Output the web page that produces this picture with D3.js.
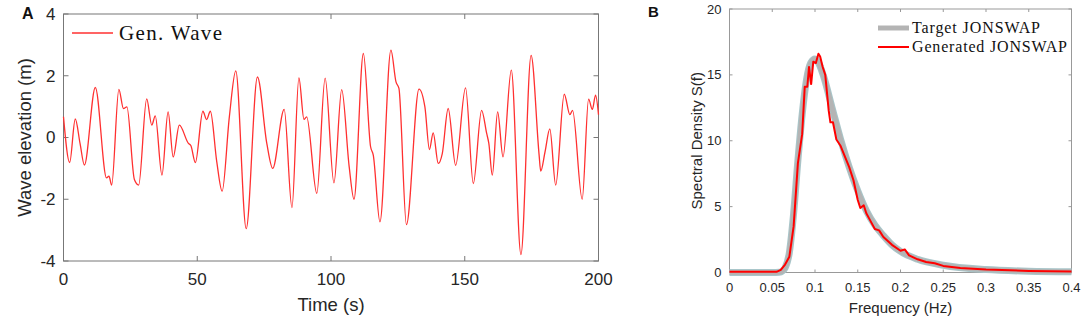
<!DOCTYPE html>
<html>
<head>
<meta charset="utf-8">
<script src="https://cdnjs.cloudflare.com/ajax/libs/d3/7.8.5/d3.min.js"></script>
<style>
  body { margin: 0; background: #fff; }
  svg { display: block; font-family: Arial, "Liberation Sans", sans-serif; }
  .lbl { fill: #262626; }
</style>
</head>
<body>
<svg id="chart" width="1084" height="319"></svg>
<script>
// Panel A: generated wave elevation, read at peaks / troughs / shoulders
var waveT = [0, 2.3, 4.4, 6.2, 7.8, 11.9, 16.1, 17.0, 18.0, 20.7, 22.4, 23.7, 26.5, 28.1,
  31.1, 33.0, 34.3, 36.8, 39.1, 41.0, 43.3, 46.7, 47.6, 49.3, 52.1, 53.5, 54.9, 57.3,
  59.3, 62.0, 64.4, 68.3, 72.5, 76.0, 78.2, 82.5, 85.4, 88.0, 89.9, 90.9, 94.7, 97.8,
  101.1, 104.0, 106.8, 108.6, 112.1, 114.8, 115.8, 118.3, 122.4, 124.3, 125.4, 128.2,
  132.9, 135.1, 136.8, 138.2, 140.1, 141.6, 143.8, 146.6, 150.3, 153.2, 156.3, 158.2,
  159.0, 160.3, 162.3, 164.3, 167.4, 171.0, 174.8, 177.8, 178.4, 180.0, 181.8, 184.0,
  187.2, 189.3, 190.3, 193.9, 196.3, 197.7, 198.9, 200];
var waveV = [0.67, -0.81, 0.60, -0.20, -0.89, 1.62, -1.31, -1.25, -1.54, 1.56, 0.94, 0.99, -1.36, -1.54,
  1.25, 0.40, 0.70, -1.22, 0.83, -0.63, 0.40, -0.19, -0.26, -0.81, 0.85, 0.58, 0.85, -0.79,
  -1.74, 0.67, 2.16, -2.95, 1.96, -0.19, -1.00, 0.91, -2.27, 1.93, 0.59, 0.67, -1.81, 1.92,
  -1.47, 1.55, -0.95, -2.00, 2.72, -0.30, -0.57, -2.73, 2.83, 1.80, 1.59, -2.82,
  1.57, 0.99, -0.39, 0.15, -0.84, -0.52, 0.94, -0.90, 1.61, -1.49, 0.88, 0.13,
  -0.19, -1.22, 0.83, -0.63, 2.18, -3.79, 2.66, -0.57, -1.09, -0.47, 0.28, -1.54,
  1.40, 0.74, 0.88, -2.00, 1.24, 0.91, 1.37, 0.74];
var timeTicks = [0, 50, 100, 150, 200];
var elevTicks = [-4, -2, 0, 2, 4];

// Panel B: spectra
var targetF = [0, 0.05, 0.058, 0.062, 0.065, 0.07, 0.075, 0.08, 0.085, 0.09, 0.095, 0.1, 0.105,
  0.11, 0.12, 0.13, 0.14, 0.15, 0.16, 0.17, 0.18, 0.19, 0.2, 0.22, 0.25, 0.3, 0.35, 0.4];
var targetS = [0, 0, 0.02, 0.12, 0.35, 1.5, 4.5, 8.5, 12.0, 14.6, 15.9, 16.2, 15.8,
  14.9, 12.5, 10.1, 8.0, 6.2, 4.7, 3.6, 2.8, 2.1, 1.6, 1.0, 0.55, 0.22, 0.1, 0.05];
var genF = [0, 0.055, 0.06, 0.065, 0.07, 0.075, 0.08, 0.085, 0.088, 0.091, 0.093, 0.0955, 0.098,
  0.101, 0.104, 0.106, 0.109, 0.112, 0.116, 0.118, 0.121, 0.125, 0.13, 0.14, 0.145, 0.15,
  0.153, 0.157, 0.16, 0.165, 0.17, 0.175, 0.18, 0.19, 0.2, 0.205, 0.21, 0.22, 0.23, 0.24,
  0.25, 0.27, 0.3, 0.35, 0.4];
var genS = [0.05, 0.05, 0.2, 0.6, 1.2, 3.5, 8.3, 10.5, 14.1, 14.1, 15.6, 14.3, 16.0,
  15.9, 16.6, 16.4, 15.6, 15.0, 12.3, 11.4, 11.4, 10.1, 9.6, 8.0, 7.0, 5.5,
  4.9, 5.1, 4.5, 3.9, 3.3, 3.2, 2.7, 2.1, 1.65, 1.75, 1.3, 1.0, 0.8, 0.7,
  0.5, 0.35, 0.22, 0.12, 0.08];
var freqTicks = [0, 0.05, 0.1, 0.15, 0.2, 0.25, 0.3, 0.35, 0.4];
var densTicks = [0, 5, 10, 15, 20];

var svg = d3.select('#chart');

// ---------- panel A ----------
var ax = {left: 63.5, right: 598.5, top: 14, bottom: 261};
var xA = d3.scaleLinear().domain([0, 200]).range([ax.left, ax.right]);
var yA = d3.scaleLinear().domain([-4, 4]).range([ax.bottom, ax.top]);
var gA = svg.append('g');

function boxAxes(g, x, y, xt, yt, box, tick, col, fs, fmtX, fmtY, xlabOff) {
  g.append('rect').attr('x', box.left).attr('y', box.top)
    .attr('width', box.right - box.left).attr('height', box.bottom - box.top)
    .attr('fill', 'none').attr('stroke', col).attr('stroke-width', 1);
  xt.forEach(function(v) {
    g.append('line').attr('x1', x(v)).attr('x2', x(v)).attr('y1', box.bottom).attr('y2', box.bottom - tick).attr('stroke', col);
    g.append('line').attr('x1', x(v)).attr('x2', x(v)).attr('y1', box.top).attr('y2', box.top + tick).attr('stroke', col);
    g.append('text').attr('class', 'lbl').attr('x', x(v)).attr('y', box.bottom + xlabOff)
      .attr('text-anchor', 'middle').attr('font-size', fs).text(fmtX(v));
  });
  yt.forEach(function(v) {
    g.append('line').attr('x1', box.left).attr('x2', box.left + tick).attr('y1', y(v)).attr('y2', y(v)).attr('stroke', col);
    g.append('line').attr('x1', box.right).attr('x2', box.right - tick).attr('y1', y(v)).attr('y2', y(v)).attr('stroke', col);
    g.append('text').attr('class', 'lbl').attr('x', box.left - 8).attr('y', y(v))
      .attr('dy', '0.35em').attr('text-anchor', 'end').attr('font-size', fs).text(fmtY(v));
  });
}

boxAxes(gA, xA, yA, timeTicks, elevTicks, ax, 5, '#777', 17,
  function(v) { return v; }, function(v) { return v; }, 24);

var wave = waveT.map(function(t, i) { return [t, waveV[i]]; });
gA.append('path').datum(wave)
  .attr('fill', 'none').attr('stroke', '#ff3030').attr('stroke-width', 1.3)
  .attr('d', d3.line().x(function(d) { return xA(d[0]); }).y(function(d) { return yA(d[1]); })
    .curve(d3.curveMonotoneX));

gA.append('text').attr('class', 'lbl').attr('x', (ax.left + ax.right) / 2).attr('y', 311)
  .attr('text-anchor', 'middle').attr('font-size', 18.5).text('Time (s)');
gA.append('text').attr('class', 'lbl').attr('transform', 'translate(31,' + ((ax.top + ax.bottom) / 2) + ') rotate(-90)')
  .attr('text-anchor', 'middle').attr('font-size', 18.5).text('Wave elevation (m)');

// legend A
gA.append('line').attr('x1', 72).attr('x2', 113).attr('y1', 33).attr('y2', 33)
  .attr('stroke', '#ff3030').attr('stroke-width', 1.3);
gA.append('text').attr('x', 119).attr('y', 40).attr('font-family', '"Liberation Serif", "DejaVu Serif", serif')
  .attr('font-size', 21).attr('fill', '#111').attr('textLength', 103).text('Gen.  Wave');

svg.append('text').attr('x', 22).attr('y', 19).attr('font-size', 16).attr('font-weight', 'bold')
  .attr('fill', '#111').text('A');

// ---------- panel B ----------
var bx = {left: 729.5, right: 1071.5, top: 9, bottom: 272.5};
var xB = d3.scaleLinear().domain([0, 0.4]).range([bx.left, bx.right]);
var yB = d3.scaleLinear().domain([0, 20]).range([bx.bottom, bx.top]);
var gB = svg.append('g');

boxAxes(gB, xB, yB, freqTicks, densTicks, bx, 3, '#999', 13,
  function(v) { return v; }, function(v) { return v; }, 19);

var line = d3.line().x(function(d) { return xB(d[0]); }).y(function(d) { return yB(d[1]); });
var target = targetF.map(function(f, i) { return [f, targetS[i]]; });
var gen = genF.map(function(f, i) { return [f, genS[i]]; });

gB.append('path').datum(target).attr('fill', 'none').attr('stroke', '#a9c6ca').attr('stroke-width', 7)
  .attr('stroke-linejoin', 'round').attr('d', line.curve(d3.curveMonotoneX));
gB.append('path').datum(target).attr('fill', 'none').attr('stroke', '#b4b4b4').attr('stroke-width', 5)
  .attr('stroke-linejoin', 'round').attr('d', line.curve(d3.curveMonotoneX));
gB.append('path').datum(gen).attr('fill', 'none').attr('stroke', '#ff0000').attr('stroke-width', 2)
  .attr('stroke-linejoin', 'round').attr('d', line.curve(d3.curveLinear));

gB.append('text').attr('class', 'lbl').attr('x', (bx.left + bx.right) / 2).attr('y', 313)
  .attr('text-anchor', 'middle').attr('font-size', 15).text('Frequency (Hz)');
gB.append('text').attr('class', 'lbl').attr('transform', 'translate(702,' + ((bx.top + bx.bottom) / 2) + ') rotate(-90)')
  .attr('text-anchor', 'middle').attr('font-size', 15).text('Spectral Density S(f)');

// legend B
gB.append('line').attr('x1', 878).attr('x2', 909).attr('y1', 28).attr('y2', 28)
  .attr('stroke', '#b4b4b4').attr('stroke-width', 5);
gB.append('text').attr('x', 912).attr('y', 33).attr('font-family', '"Liberation Serif", "DejaVu Serif", serif')
  .attr('font-size', 16).attr('fill', '#111').attr('textLength', 128).text('Target JONSWAP');
gB.append('line').attr('x1', 878).attr('x2', 909).attr('y1', 47).attr('y2', 47)
  .attr('stroke', '#ff0000').attr('stroke-width', 2);
gB.append('text').attr('x', 912).attr('y', 52).attr('font-family', '"Liberation Serif", "DejaVu Serif", serif')
  .attr('font-size', 16).attr('fill', '#111').attr('textLength', 155).text('Generated JONSWAP');

svg.append('text').attr('x', 648).attr('y', 17).attr('font-size', 15).attr('font-weight', 'bold')
  .attr('fill', '#111').text('B');
</script>
</body>
</html>
